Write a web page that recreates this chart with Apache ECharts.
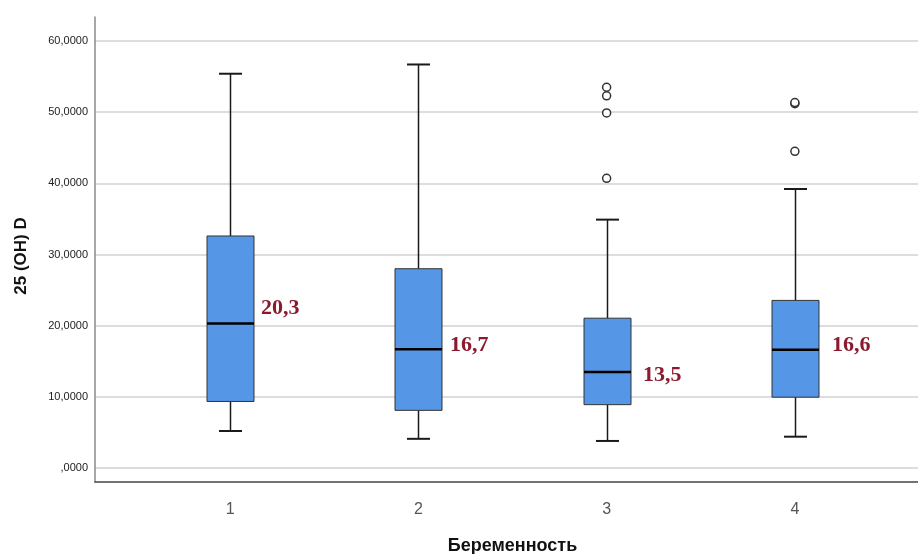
<!DOCTYPE html>
<html>
<head>
<meta charset="utf-8">
<script src="https://cdn.jsdelivr.net/npm/echarts@6/dist/echarts.min.js"></script>
<style>
  html, body { margin: 0; padding: 0; background: #fff; }
  #chart { width: 918px; height: 554px; }
</style>
</head>
<body>
<div id="chart"></div>
<script>
// Pregnancy groups and 25(OH)D distribution per group
const categories = ['1', '2', '3', '4'];
const whiskerLow = [5.2, 4.1, 3.8, 4.4];
const quartile1 = [9.35, 8.1, 8.9, 9.95];
const medians = [20.3, 16.7, 13.5, 16.6];
const quartile3 = [32.6, 28.0, 21.05, 23.55];
const whiskerHigh = [55.4, 56.7, 34.9, 39.2];
// outliers: [group index, value]
const outliers = [
  [2, 53.5], [2, 52.3], [2, 49.9], [2, 40.7],
  [3, 51.2], [3, 51.35], [3, 44.5]
];
const yTicks = [0, 10, 20, 30, 40, 50, 60];

// drawing styles
const BOX_W = 47;
const CAP_W = 23;
const BOX_FILL = '#5596e6';
const LABEL_COLOR = '#8b1a2e';
const labelShift = [[7, -15], [8, -4], [12, 3], [13, -5]];

const fmtAxis = v => (v === 0 ? ',0000' : v.toFixed(4).replace('.', ','));
const fmtMedian = v => v.toFixed(1).replace('.', ',');

const boxData = categories.map((c, i) => [i, whiskerLow[i], quartile1[i], medians[i], quartile3[i], whiskerHigh[i]]);

const chart = echarts.init(document.getElementById('chart'), null, { renderer: 'canvas' });

chart.setOption({
  animation: false,
  backgroundColor: '#fff',
  grid: [
    // gridlines and value labels
    { left: 95, right: 0, top: 41, bottom: 86, outerBoundsMode: 'none' },
    // boxes
    { left: 136, right: 29, top: 41, bottom: 86, outerBoundsMode: 'none' },
    // frame lines
    { left: 95, right: 0, top: 17, bottom: 72, outerBoundsMode: 'none' }
  ],
  xAxis: [
    { gridIndex: 0, type: 'value', min: 0, max: 1, show: false },
    {
      gridIndex: 1, type: 'category', data: categories,
      axisLine: { show: false }, axisTick: { show: false },
      axisLabel: { margin: 34, fontSize: 16, color: '#555', fontFamily: 'Liberation Sans' },
      name: 'Беременность', nameLocation: 'middle', nameGap: 69,
      nameTextStyle: { fontSize: 18, fontWeight: 'bold', color: '#111', fontFamily: 'Liberation Sans' },
      splitLine: { show: false }
    },
    {
      gridIndex: 2, type: 'value', min: 0, max: 1,
      axisLine: { show: true, onZero: false, lineStyle: { color: '#444', width: 1.5 } },
      axisTick: { show: false }, axisLabel: { show: false }, splitLine: { show: false }
    }
  ],
  yAxis: [
    {
      gridIndex: 0, type: 'value', min: 0, max: 60, interval: 10,
      axisLine: { show: false }, axisTick: { show: false },
      axisLabel: {
        margin: 7, fontSize: 11, color: '#222', fontFamily: 'Liberation Sans',
        formatter: fmtAxis,
        customValues: yTicks
      },
      splitLine: { show: true, lineStyle: { color: '#d2d2d2', width: 1.5 } }
    },
    { gridIndex: 1, type: 'value', min: 0, max: 60, show: false },
    {
      gridIndex: 2, type: 'value', min: 0, max: 1,
      axisLine: { show: true, onZero: false, lineStyle: { color: '#8a8a8a', width: 1.5 } },
      axisTick: { show: false }, axisLabel: { show: false }, splitLine: { show: false }
    }
  ],
  graphic: [
    {
      type: 'text', x: 21, y: 256, rotation: Math.PI / 2,
      style: {
        text: '25 (OH) D', font: 'bold 17px "Liberation Sans"', fill: '#111',
        textAlign: 'center', textVerticalAlign: 'middle'
      }
    }
  ],
  series: [
    {
      type: 'custom',
      xAxisIndex: 1, yAxisIndex: 1,
      data: boxData,
      encode: { x: 0, y: [1, 2, 3, 4, 5] },
      renderItem: function (params, api) {
        const i = params.dataIndex;
        const x = api.value(0);
        const lo = api.coord([x, api.value(1)]);
        const b1 = api.coord([x, api.value(2)]);
        const md = api.coord([x, api.value(3)]);
        const b3 = api.coord([x, api.value(4)]);
        const hi = api.coord([x, api.value(5)]);
        const cx = Math.round(md[0]) + 0.5;
        const hw = BOX_W / 2, cw = CAP_W / 2;
        const stroke = { stroke: '#1a1a1a', lineWidth: 1.5 };
        return {
          type: 'group',
          children: [
            { type: 'line', shape: { x1: cx, y1: hi[1], x2: cx, y2: b3[1] }, style: stroke },
            { type: 'line', shape: { x1: cx, y1: b1[1], x2: cx, y2: lo[1] }, style: stroke },
            { type: 'line', shape: { x1: cx - cw, y1: hi[1], x2: cx + cw, y2: hi[1] }, style: { stroke: '#1a1a1a', lineWidth: 2 } },
            { type: 'line', shape: { x1: cx - cw, y1: lo[1], x2: cx + cw, y2: lo[1] }, style: { stroke: '#1a1a1a', lineWidth: 2 } },
            {
              type: 'rect',
              shape: { x: cx - hw, y: b3[1], width: BOX_W, height: b1[1] - b3[1] },
              style: { fill: BOX_FILL, stroke: '#333', lineWidth: 1 }
            },
            { type: 'line', shape: { x1: cx - hw, y1: md[1], x2: cx + hw, y2: md[1] }, style: { stroke: '#000', lineWidth: 2.5 } },
            {
              type: 'text',
              x: cx + hw + labelShift[i][0], y: md[1] + labelShift[i][1],
              style: {
                text: fmtMedian(api.value(3)),
                font: 'bold 22px "Liberation Serif"', fill: LABEL_COLOR,
                textAlign: 'left', textVerticalAlign: 'middle'
              }
            }
          ]
        };
      },
      z: 3
    },
    {
      type: 'scatter',
      xAxisIndex: 1, yAxisIndex: 1,
      data: outliers,
      symbol: 'circle', symbolSize: 8,
      itemStyle: { color: '#fff', borderColor: '#333', borderWidth: 1.5, opacity: 1 },
      z: 4
    }
  ]
});
</script>
</body>
</html>
